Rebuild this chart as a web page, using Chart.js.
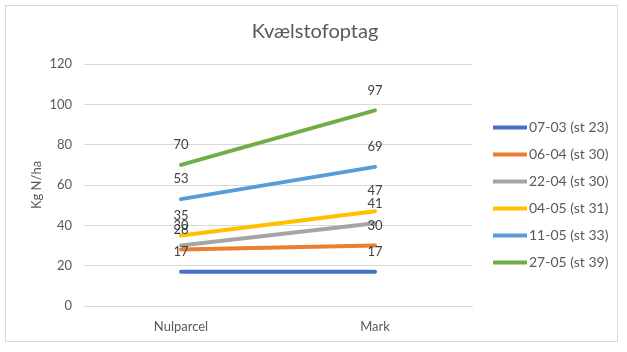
<!DOCTYPE html>
<html>
<head>
<meta charset="utf-8">
<script src="https://cdn.jsdelivr.net/npm/chart.js@4"></script>
<style>
  body { margin: 0; background: #fff; }
  #wrap { position: relative; width: 627px; height: 352px; }
  #frame { position: absolute; left: 5px; top: 5px; width: 613px; height: 337px; border: 1px solid #d9d9d9; box-sizing: border-box; }
  canvas { position: absolute; left: 0; top: 0; }
</style>
</head>
<body>
<div id="wrap">
  <div id="frame"></div>
  <canvas id="chart" width="627" height="352"></canvas>
</div>
<script>
const categories = ['Nulparcel', 'Mark'];
const seriesNames = ['07-03 (st 23)', '06-04 (st 30)', '22-04 (st 30)', '04-05 (st 31)', '11-05 (st 33)', '27-05 (st 39)'];
const seriesValues = [
  [17, 17],
  [28, 30],
  [30, 41],
  [35, 47],
  [53, 69],
  [70, 97]
];
const seriesColors = ['#4472C4', '#ED7D31', '#A5A5A5', '#FFC000', '#5B9BD5', '#70AD47'];

const fontFamily = 'Lato, "Liberation Sans", sans-serif';

// value labels above each point, like excel's "above" position
const pointLabels = {
  id: 'pointLabels',
  afterDatasetsDraw(chart) {
    const ctx = chart.ctx;
    ctx.save();
    ctx.font = '13px ' + fontFamily;
    ctx.fillStyle = '#404040';
    ctx.textAlign = 'center';
    ctx.textBaseline = 'middle';
    chart.data.datasets.forEach((ds, i) => {
      chart.getDatasetMeta(i).data.forEach((pt, j) => {
        ctx.fillText(ds.data[j], pt.x, pt.y - 20);
      });
    });
    ctx.restore();
  }
};

// excel style legend to the right of the plot, in series order
const sideLegend = {
  id: 'sideLegend',
  afterDraw(chart) {
    const ctx = chart.ctx;
    const x = chart.chartArea.right + 21;
    const rowH = 27;
    const n = chart.data.datasets.length;
    let y = (chart.chartArea.top + chart.chartArea.bottom) / 2 + 10 - (n - 1) * rowH / 2;
    ctx.save();
    ctx.font = '14px ' + fontFamily;
    ctx.textBaseline = 'middle';
    chart.data.datasets.forEach(ds => {
      ctx.fillStyle = ds.borderColor;
      ctx.fillRect(x, y - 2, 34, 4);
      ctx.fillStyle = '#595959';
      ctx.fillText(ds.label, x + 36, y);
      y += rowH;
    });
    ctx.restore();
  }
};

const datasets = seriesNames.map((name, i) => ({
  label: name,
  data: seriesValues[i],
  borderColor: seriesColors[i],
  backgroundColor: seriesColors[i],
  borderWidth: 4,
  borderCapStyle: 'round',
  pointRadius: 0,
  tension: 0,
  order: seriesNames.length - i
}));

new Chart(document.getElementById('chart'), {
  type: 'line',
  data: { labels: categories, datasets },
  options: {
    responsive: false,
    animation: false,
    layout: { padding: { left: 5, right: 2, top: 5, bottom: 10 } },
    scales: {
      x: {
        offset: true,
        grid: { display: false },
        border: { color: '#d9d9d9' },
        ticks: { color: '#595959', font: { family: fontFamily, size: 13 }, padding: 5 },
        afterFit(s) { s.height = 36; }
      },
      y: {
        min: 0,
        max: 120,
        ticks: { stepSize: 20, color: '#595959', font: { family: fontFamily, size: 13 }, padding: 12 },
        grid: { color: '#d9d9d9', drawTicks: false },
        border: { display: false },
        title: { display: true, text: 'Kg N/ha', color: '#595959', font: { family: fontFamily, size: 13 }, padding: { top: 24 } },
        afterFit(s) { s.width = 79; }
      },
      // empty space on the right where the legend is drawn
      legendSpace: {
        position: 'right',
        display: true,
        grid: { display: false },
        border: { display: false },
        ticks: { display: false },
        afterFit(s) { s.width = 153; }
      }
    },
    plugins: {
      title: {
        display: true,
        text: 'Kvælstofoptag',
        color: '#595959',
        font: { family: fontFamily, size: 20, weight: 'normal' },
        padding: { top: 15, bottom: 20 }
      },
      legend: { display: false },
      tooltip: { enabled: false }
    }
  },
  plugins: [pointLabels, sideLegend]
});
</script>
</body>
</html>
